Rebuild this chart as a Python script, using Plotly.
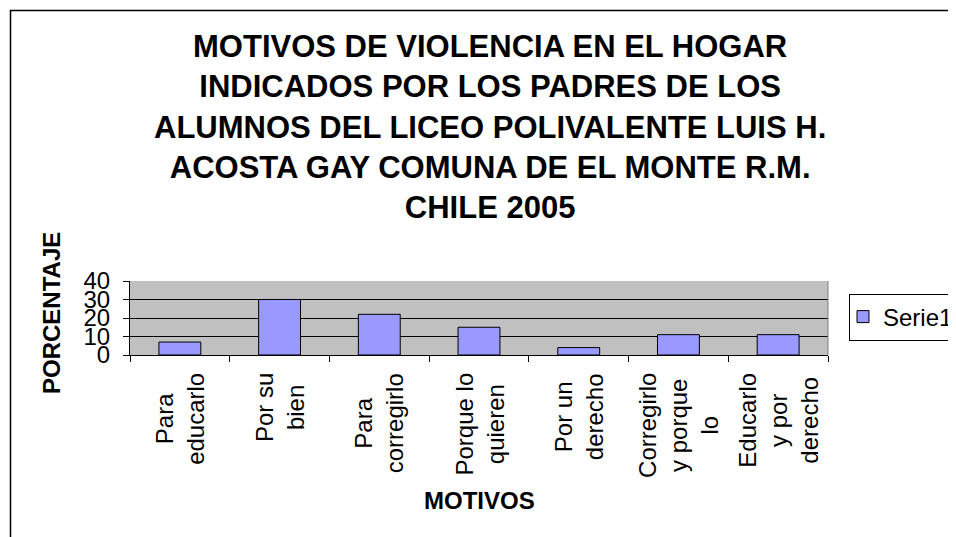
import plotly.graph_objects as go

# datos
motivos = ["Para educarlo", "Por su bien", "Para corregirlo", "Porque lo quieren",
           "Por un derecho", "Corregirlo y porque lo", "Educarlo y por derecho"]
etiquetas = ["Para<br>educarlo", "Por su<br>bien", "Para<br>corregirlo", "Porque lo<br>quieren",
             "Por un<br>derecho", "Corregirlo<br>y porque<br>lo", "Educarlo<br>y por<br>derecho"]
porcentaje = [7, 30, 22, 15, 4, 11, 11]

titulo = ("MOTIVOS DE VIOLENCIA EN EL HOGAR<br>INDICADOS POR LOS PADRES DE LOS<br>"
          "ALUMNOS DEL LICEO POLIVALENTE LUIS H.<br>ACOSTA GAY COMUNA DE EL MONTE R.M.<br>CHILE 2005")

# la pagina deja 8px de margen en el body
OFF = 8
W, H = 956 - OFF, 537 - OFF
L, T = 130 - OFF, 281 - OFF
R = W - (828 - OFF)
B = H - (355 - OFF)
pw, ph = W - L - R, H - T - B


def px_x(x):
    # x en pixeles de la imagen de referencia -> paper
    return (x - OFF - L) / pw


def px_y(y):
    return (H - B - (y - OFF)) / ph


fuente = "Liberation Sans, Arial, sans-serif"

fig = go.Figure()
fig.add_trace(go.Bar(
    x=motivos, y=porcentaje, name="Serie1",
    marker=dict(color="#9999FF", line=dict(color="black", width=1)),
))

anots = []
for m, e in zip(motivos, etiquetas):
    anots.append(dict(x=m, xref="x", y=px_y(371), yref="paper", text=e, showarrow=False,
                      textangle=-90, align="center", xanchor="center", yanchor="top",
                      font=dict(size=24, color="black", family=fuente)))
anots.append(dict(x=0.5, xref="paper", y=px_y(500), yref="paper", text="<b>MOTIVOS</b>",
                  showarrow=False, yanchor="middle",
                  font=dict(size=24, color="black", family=fuente)))
anots.append(dict(x=px_x(51), xref="paper", y=px_y(313), yref="paper", text="<b>PORCENTAJE</b>",
                  showarrow=False, textangle=-90, xanchor="center", yanchor="middle",
                  font=dict(size=24, color="black", family=fuente)))
anots.append(dict(x=px_x(490), xref="paper", y=px_y(127), yref="paper",
                  text="<b>" + titulo + "</b>", showarrow=False, align="center",
                  xanchor="center", yanchor="middle",
                  font=dict(size=31, color="black", family=fuente)))

fig.update_layout(
    width=W, height=H,
    margin=dict(l=L, r=R, t=T, b=B, autoexpand=False),
    paper_bgcolor="white",
    plot_bgcolor="#C0C0C0",
    font=dict(family=fuente, size=24, color="black"),
    bargap=0.58,
    showlegend=True,
    legend=dict(x=px_x(849), xanchor="left", y=px_y(317), yanchor="middle",
                bordercolor="black", borderwidth=1, bgcolor="white", indentation=-7,
                font=dict(size=24, color="black", family=fuente)),
    annotations=anots,
    shapes=[
        dict(type="line", xref="paper", yref="paper", x0=1, x1=1, y0=0, y1=1,
             line=dict(color="#808080", width=1)),
        dict(type="rect", xref="paper", yref="paper", x0=px_x(10.5), x1=1.5,
             y0=-3, y1=px_y(10.5), line=dict(color="black", width=1.5)),
    ],
)

fig.update_xaxes(
    showticklabels=False, showline=True, linecolor="black", linewidth=1,
    ticks="outside", tickson="boundaries", ticklen=6, tickcolor="black",
    showgrid=False,
)
fig.update_yaxes(
    range=[0, 40], dtick=10, showline=True, linecolor="black", linewidth=1,
    ticks="outside", ticklen=6, tickcolor="black", ticklabelstandoff=8,
    showgrid=True, gridcolor="black", gridwidth=1, zeroline=False,
    tickfont=dict(size=24, color="black", family=fuente),
)

fig.write_html("out.html")
